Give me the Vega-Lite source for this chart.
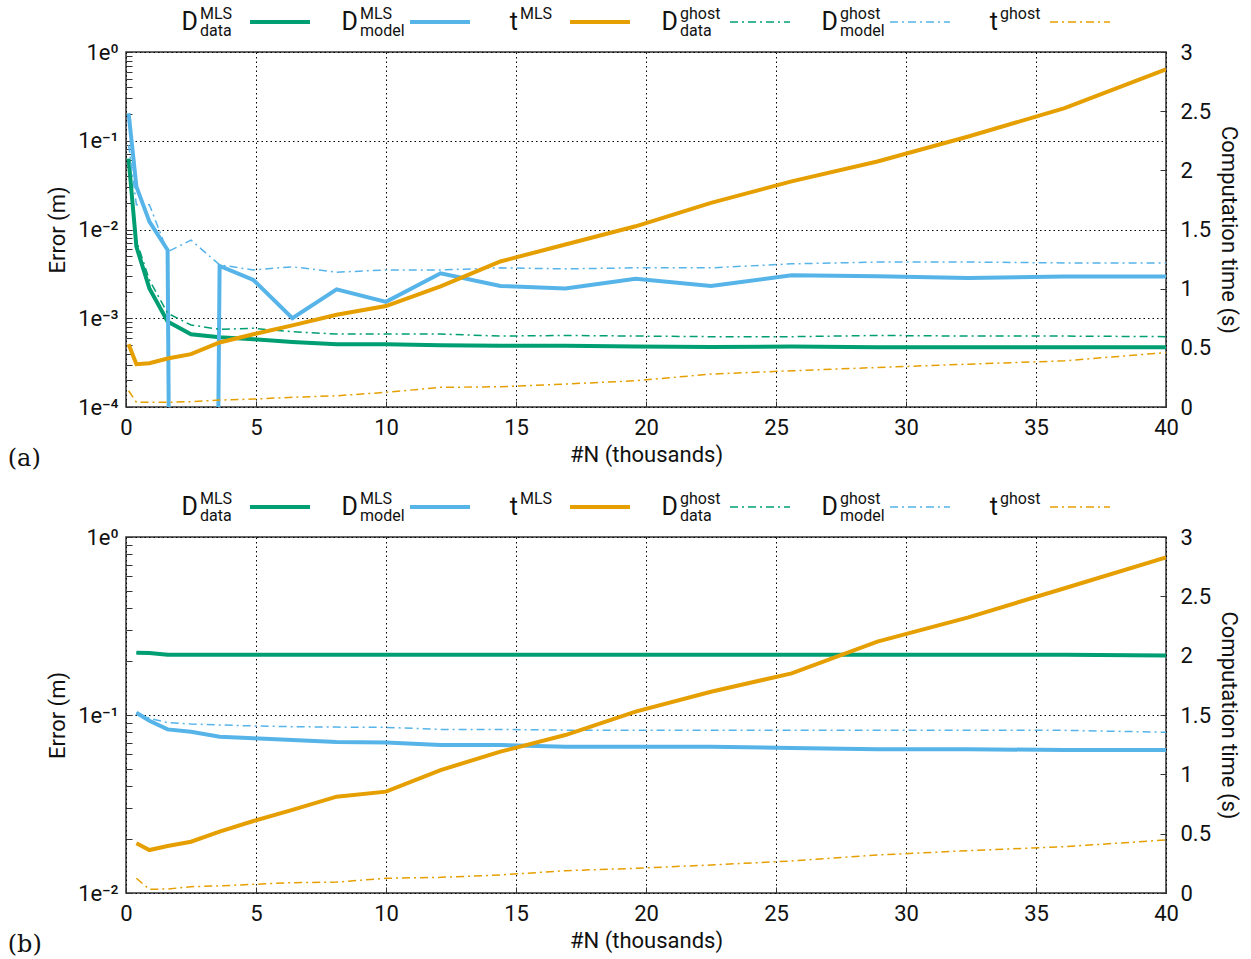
{
  "$schema": "https://vega.github.io/schema/vega-lite/v6.json",
  "padding": {"left": 6, "top": 0, "right": 0, "bottom": 0},
  "background": "white",
  "datasets": {
    "legend": [
      {"series": "Ddata_MLS", "base": "D", "sup": "MLS", "sub": "data"},
      {"series": "Dmodel_MLS", "base": "D", "sup": "MLS", "sub": "model"},
      {"series": "t_MLS", "base": "t", "sup": "MLS", "sub": ""},
      {"series": "Ddata_ghost", "base": "D", "sup": "ghost", "sub": "data"},
      {"series": "Dmodel_ghost", "base": "D", "sup": "ghost", "sub": "model"},
      {"series": "t_ghost", "base": "t", "sup": "ghost", "sub": ""}
    ],
    "pa": [
      {"N": 0.1, "Ddata_MLS": 0.063, "Dmodel_MLS": 0.204, "t_MLS": 0.53, "Ddata_ghost": 0.058, "Dmodel_ghost": 0.09, "t_ghost": 0.137},
      {"N": 0.4, "Ddata_MLS": 0.0064, "Dmodel_MLS": 0.0304, "t_MLS": 0.362, "Ddata_ghost": 0.0075, "Dmodel_ghost": 0.019, "t_ghost": 0.04},
      {"N": 0.9, "Ddata_MLS": 0.00217, "Dmodel_MLS": 0.01225, "t_MLS": 0.37, "Ddata_ghost": 0.0027, "Dmodel_ghost": 0.019, "t_ghost": 0.04},
      {"N": 1.6, "Ddata_MLS": 0.00092, "Dmodel_MLS": 0.00587, "t_MLS": 0.41, "Ddata_ghost": 0.00114, "Dmodel_ghost": 0.0056, "t_ghost": 0.04},
      {"N": 2.5, "Ddata_MLS": 0.00066, "Dmodel_MLS": 1e-40, "t_MLS": 0.447, "Ddata_ghost": 0.00084, "Dmodel_ghost": 0.0076, "t_ghost": 0.045},
      {"N": 3.6, "Ddata_MLS": 0.00061, "Dmodel_MLS": 0.00388, "t_MLS": 0.545, "Ddata_ghost": 0.00075, "Dmodel_ghost": 0.004, "t_ghost": 0.059},
      {"N": 4.9, "Ddata_MLS": 0.00058, "Dmodel_MLS": 0.0027, "t_MLS": 0.615, "Ddata_ghost": 0.00077, "Dmodel_ghost": 0.0035, "t_ghost": 0.067},
      {"N": 6.4, "Ddata_MLS": 0.00054, "Dmodel_MLS": 0.001, "t_MLS": 0.69, "Ddata_ghost": 0.000706, "Dmodel_ghost": 0.0038, "t_ghost": 0.082},
      {"N": 8.1, "Ddata_MLS": 0.00051, "Dmodel_MLS": 0.00212, "t_MLS": 0.78, "Ddata_ghost": 0.000664, "Dmodel_ghost": 0.0033, "t_ghost": 0.095},
      {"N": 10, "Ddata_MLS": 0.00051, "Dmodel_MLS": 0.00153, "t_MLS": 0.853, "Ddata_ghost": 0.000664, "Dmodel_ghost": 0.0035, "t_ghost": 0.124},
      {"N": 12.1, "Ddata_MLS": 0.000495, "Dmodel_MLS": 0.00321, "t_MLS": 1.02, "Ddata_ghost": 0.000664, "Dmodel_ghost": 0.0035, "t_ghost": 0.166},
      {"N": 14.4, "Ddata_MLS": 0.00049, "Dmodel_MLS": 0.00231, "t_MLS": 1.23, "Ddata_ghost": 0.00063, "Dmodel_ghost": 0.0037, "t_ghost": 0.171},
      {"N": 16.9, "Ddata_MLS": 0.00049, "Dmodel_MLS": 0.00217, "t_MLS": 1.373, "Ddata_ghost": 0.00064, "Dmodel_ghost": 0.0036, "t_ghost": 0.194},
      {"N": 19.6, "Ddata_MLS": 0.00048, "Dmodel_MLS": 0.00279, "t_MLS": 1.527, "Ddata_ghost": 0.00063, "Dmodel_ghost": 0.0037, "t_ghost": 0.222},
      {"N": 22.5, "Ddata_MLS": 0.000475, "Dmodel_MLS": 0.00231, "t_MLS": 1.725, "Ddata_ghost": 0.00062, "Dmodel_ghost": 0.0037, "t_ghost": 0.278},
      {"N": 25.6, "Ddata_MLS": 0.00048, "Dmodel_MLS": 0.00305, "t_MLS": 1.907, "Ddata_ghost": 0.00062, "Dmodel_ghost": 0.0041, "t_ghost": 0.306},
      {"N": 28.9, "Ddata_MLS": 0.00047, "Dmodel_MLS": 0.00298, "t_MLS": 2.075, "Ddata_ghost": 0.00064, "Dmodel_ghost": 0.0043, "t_ghost": 0.334},
      {"N": 32.4, "Ddata_MLS": 0.00047, "Dmodel_MLS": 0.00285, "t_MLS": 2.286, "Ddata_ghost": 0.00063, "Dmodel_ghost": 0.0043, "t_ghost": 0.362},
      {"N": 36.1, "Ddata_MLS": 0.00047, "Dmodel_MLS": 0.00295, "t_MLS": 2.525, "Ddata_ghost": 0.00063, "Dmodel_ghost": 0.0042, "t_ghost": 0.39},
      {"N": 40, "Ddata_MLS": 0.00047, "Dmodel_MLS": 0.00295, "t_MLS": 2.853, "Ddata_ghost": 0.00062, "Dmodel_ghost": 0.0042, "t_ghost": 0.46}
    ],
    "pb": [
      {"N": 0.4, "Ddata_MLS": 0.224, "Dmodel_MLS": 0.103, "t_MLS": 0.419, "Ddata_ghost": 0.224, "Dmodel_ghost": 0.103, "t_ghost": 0.124},
      {"N": 0.9, "Ddata_MLS": 0.223, "Dmodel_MLS": 0.0929, "t_MLS": 0.362, "Ddata_ghost": 0.222, "Dmodel_ghost": 0.0958, "t_ghost": 0.031},
      {"N": 1.6, "Ddata_MLS": 0.218, "Dmodel_MLS": 0.083, "t_MLS": 0.396, "Ddata_ghost": 0.218, "Dmodel_ghost": 0.0906, "t_ghost": 0.034},
      {"N": 2.5, "Ddata_MLS": 0.218, "Dmodel_MLS": 0.0805, "t_MLS": 0.432, "Ddata_ghost": 0.218, "Dmodel_ghost": 0.089, "t_ghost": 0.053},
      {"N": 3.6, "Ddata_MLS": 0.218, "Dmodel_MLS": 0.0755, "t_MLS": 0.517, "Ddata_ghost": 0.218, "Dmodel_ghost": 0.0879, "t_ghost": 0.06},
      {"N": 4.9, "Ddata_MLS": 0.218, "Dmodel_MLS": 0.074, "t_MLS": 0.607, "Ddata_ghost": 0.218, "Dmodel_ghost": 0.0868, "t_ghost": 0.073},
      {"N": 6.4, "Ddata_MLS": 0.218, "Dmodel_MLS": 0.0724, "t_MLS": 0.7, "Ddata_ghost": 0.218, "Dmodel_ghost": 0.086, "t_ghost": 0.087},
      {"N": 8.1, "Ddata_MLS": 0.218, "Dmodel_MLS": 0.0705, "t_MLS": 0.812, "Ddata_ghost": 0.218, "Dmodel_ghost": 0.0855, "t_ghost": 0.092},
      {"N": 10, "Ddata_MLS": 0.218, "Dmodel_MLS": 0.07, "t_MLS": 0.854, "Ddata_ghost": 0.218, "Dmodel_ghost": 0.0852, "t_ghost": 0.124},
      {"N": 12.1, "Ddata_MLS": 0.218, "Dmodel_MLS": 0.0678, "t_MLS": 1.036, "Ddata_ghost": 0.218, "Dmodel_ghost": 0.083, "t_ghost": 0.132},
      {"N": 14.4, "Ddata_MLS": 0.218, "Dmodel_MLS": 0.0678, "t_MLS": 1.191, "Ddata_ghost": 0.218, "Dmodel_ghost": 0.083, "t_ghost": 0.152},
      {"N": 16.9, "Ddata_MLS": 0.218, "Dmodel_MLS": 0.0664, "t_MLS": 1.331, "Ddata_ghost": 0.218, "Dmodel_ghost": 0.0822, "t_ghost": 0.188},
      {"N": 19.6, "Ddata_MLS": 0.218, "Dmodel_MLS": 0.0664, "t_MLS": 1.528, "Ddata_ghost": 0.218, "Dmodel_ghost": 0.0822, "t_ghost": 0.208},
      {"N": 22.5, "Ddata_MLS": 0.218, "Dmodel_MLS": 0.0664, "t_MLS": 1.696, "Ddata_ghost": 0.218, "Dmodel_ghost": 0.0822, "t_ghost": 0.236},
      {"N": 25.6, "Ddata_MLS": 0.218, "Dmodel_MLS": 0.0652, "t_MLS": 1.851, "Ddata_ghost": 0.218, "Dmodel_ghost": 0.0822, "t_ghost": 0.27},
      {"N": 28.9, "Ddata_MLS": 0.218, "Dmodel_MLS": 0.0642, "t_MLS": 2.118, "Ddata_ghost": 0.218, "Dmodel_ghost": 0.0822, "t_ghost": 0.32},
      {"N": 32.4, "Ddata_MLS": 0.218, "Dmodel_MLS": 0.0642, "t_MLS": 2.323, "Ddata_ghost": 0.218, "Dmodel_ghost": 0.0822, "t_ghost": 0.357},
      {"N": 36.1, "Ddata_MLS": 0.218, "Dmodel_MLS": 0.0636, "t_MLS": 2.568, "Ddata_ghost": 0.218, "Dmodel_ghost": 0.082, "t_ghost": 0.39},
      {"N": 40, "Ddata_MLS": 0.216, "Dmodel_MLS": 0.0636, "t_MLS": 2.829, "Ddata_ghost": 0.217, "Dmodel_ghost": 0.08, "t_ghost": 0.447}
    ]
  },
  "vconcat": [
    {
      "vconcat": [
        {
          "width": 1040, "height": 44,
          "view": {"stroke": null},
          "data": {"name": "legend"},
          "encoding": {
            "x": {"field": "series", "type": "nominal", "sort": null, "axis": null,
              "scale": {"type": "band", "domain": ["Ddata_MLS", "Dmodel_MLS", "t_MLS", "Ddata_ghost", "Dmodel_ghost", "t_ghost"], "range": [24, 984], "paddingInner": 0, "paddingOuter": 0}},
            "color": {"field": "series", "type": "nominal", "legend": null,
              "scale": {"domain": ["Ddata_MLS", "Dmodel_MLS", "t_MLS", "Ddata_ghost", "Dmodel_ghost", "t_ghost"], "range": ["#009e73", "#56b4e9", "#e69f00", "#009e73", "#56b4e9", "#e69f00"]}}
          },
          "layer": [
            {"transform": [{"filter": "indexof(datum.series, 'MLS') >= 0"}],
             "mark": {"type": "rule", "strokeWidth": 4},
             "encoding": {"x": {"field": "series", "type": "nominal", "bandPosition": 0.625}, "x2": {"field": "series", "bandPosition": 1}}},
            {"transform": [{"filter": "indexof(datum.series, 'ghost') >= 0"}],
             "mark": {"type": "rule", "strokeWidth": 1.5, "strokeDash": [8, 4, 2, 4]},
             "encoding": {"x": {"field": "series", "type": "nominal", "bandPosition": 0.625}, "x2": {"field": "series", "bandPosition": 1}}},
            {"mark": {"type": "text", "align": "right", "baseline": "middle", "fontSize": 25},
             "encoding": {"x": {"field": "series", "type": "nominal", "bandPosition": 0.3}, "text": {"field": "base"}, "color": {"value": "#111"}}},
            {"mark": {"type": "text", "align": "left", "baseline": "middle", "fontSize": 16, "dy": -8},
             "encoding": {"x": {"field": "series", "type": "nominal", "bandPosition": 0.3125}, "text": {"field": "sup"}, "color": {"value": "#111"}}},
            {"mark": {"type": "text", "align": "left", "baseline": "middle", "fontSize": 16, "dy": 9},
             "encoding": {"x": {"field": "series", "type": "nominal", "bandPosition": 0.3125}, "text": {"field": "sub"}, "color": {"value": "#111"}}}
          ]
        },
        {
          "width": 1040, "height": 355,
          "data": {"name": "pa"},
          "title": {"text": "(a)", "orient": "bottom", "anchor": "start", "frame": "bounds", "font": "DejaVu Serif", "fontSize": 24, "fontWeight": "normal", "color": "#111", "dx": -39, "offset": -18},
          "encoding": {
            "x": {"field": "N", "type": "quantitative", "scale": {"domain": [0, 40], "nice": false, "zero": false},
              "axis": {"title": "#N (thousands)", "values": [0, 5, 10, 15, 20, 25, 30, 35, 40], "tickSize": -6, "labelPadding": 16, "grid": true, "labelFlush": false, "titlePadding": 6}}
          },
          "layer": [
            {
              "transform": [{"fold": ["Ddata_MLS", "Dmodel_MLS", "Ddata_ghost", "Dmodel_ghost"], "as": ["series", "value"]}],
              "encoding": {
                "y": {"field": "value", "type": "quantitative",
                  "scale": {"type": "log", "domain": [0.0001, 1], "nice": false},
                  "axis": {"orient": "left", "title": "Error (m)", "tickSize": -6, "labelPadding": 14, "titlePadding": 8, "labelOverlap": false, "labelFlush": false, "grid": true,
                    "values": [0.0001, 0.0002, 0.0003, 0.0004, 0.0005, 0.0006, 0.0007, 0.0008, 0.0009, 0.001, 0.002, 0.003, 0.004, 0.005, 0.006, 0.007, 0.008, 0.009, 0.01, 0.02, 0.03, 0.04, 0.05, 0.06, 0.07, 0.08, 0.09, 0.1, 0.2, 0.3, 0.4, 0.5, 0.6, 0.7, 0.8, 0.9, 1],
                    "labelExpr": "datum.value == 1 ? '1e⁰' : datum.value == 0.1 ? '1e⁻¹' : datum.value == 0.01 ? '1e⁻²' : datum.value == 0.001 ? '1e⁻³' : datum.value == 0.0001 ? '1e⁻⁴' : ''",
                    "gridOpacity": {"condition": {"test": "indexof([1, 0.1, 0.01, 0.001, 0.0001], datum.value) >= 0", "value": 1}, "value": 0}}},
                "color": {"field": "series", "type": "nominal", "legend": null,
                  "scale": {"domain": ["Ddata_MLS", "Dmodel_MLS", "t_MLS", "Ddata_ghost", "Dmodel_ghost", "t_ghost"], "range": ["#009e73", "#56b4e9", "#e69f00", "#009e73", "#56b4e9", "#e69f00"]}}
              },
              "layer": [
                {"transform": [{"filter": "indexof(datum.series, 'MLS') >= 0"}], "mark": {"type": "line", "clip": true, "strokeWidth": 4}},
                {"transform": [{"filter": "indexof(datum.series, 'ghost') >= 0"}], "mark": {"type": "line", "clip": true, "strokeWidth": 1.5, "strokeDash": [8, 4, 2, 4]}}
              ]
            },
            {
              "transform": [{"fold": ["t_MLS", "t_ghost"], "as": ["series", "value"]}],
              "encoding": {
                "y": {"field": "value", "type": "quantitative",
                  "scale": {"domain": [0, 3], "nice": false},
                  "axis": {"orient": "right", "title": "Computation time (s)", "values": [0, 0.5, 1, 1.5, 2, 2.5, 3], "labelExpr": "'' + datum.value", "tickSize": -6, "labelPadding": 20, "titlePadding": 6, "grid": false, "labelFlush": false}},
                "color": {"field": "series", "type": "nominal", "legend": null,
                  "scale": {"domain": ["Ddata_MLS", "Dmodel_MLS", "t_MLS", "Ddata_ghost", "Dmodel_ghost", "t_ghost"], "range": ["#009e73", "#56b4e9", "#e69f00", "#009e73", "#56b4e9", "#e69f00"]}}
              },
              "layer": [
                {"transform": [{"filter": "indexof(datum.series, 'MLS') >= 0"}], "mark": {"type": "line", "clip": true, "strokeWidth": 4}},
                {"transform": [{"filter": "indexof(datum.series, 'ghost') >= 0"}], "mark": {"type": "line", "clip": true, "strokeWidth": 1.5, "strokeDash": [8, 4, 2, 4]}}
              ]
            }
          ],
          "resolve": {"scale": {"y": "independent"}}
        }
      ],
      "spacing": -4,
      "resolve": {"scale": {"x": "independent", "color": "independent"}}
    },
    {
      "vconcat": [
        {
          "width": 1040, "height": 44,
          "view": {"stroke": null},
          "data": {"name": "legend"},
          "encoding": {
            "x": {"field": "series", "type": "nominal", "sort": null, "axis": null,
              "scale": {"type": "band", "domain": ["Ddata_MLS", "Dmodel_MLS", "t_MLS", "Ddata_ghost", "Dmodel_ghost", "t_ghost"], "range": [24, 984], "paddingInner": 0, "paddingOuter": 0}},
            "color": {"field": "series", "type": "nominal", "legend": null,
              "scale": {"domain": ["Ddata_MLS", "Dmodel_MLS", "t_MLS", "Ddata_ghost", "Dmodel_ghost", "t_ghost"], "range": ["#009e73", "#56b4e9", "#e69f00", "#009e73", "#56b4e9", "#e69f00"]}}
          },
          "layer": [
            {"transform": [{"filter": "indexof(datum.series, 'MLS') >= 0"}],
             "mark": {"type": "rule", "strokeWidth": 4},
             "encoding": {"x": {"field": "series", "type": "nominal", "bandPosition": 0.625}, "x2": {"field": "series", "bandPosition": 1}}},
            {"transform": [{"filter": "indexof(datum.series, 'ghost') >= 0"}],
             "mark": {"type": "rule", "strokeWidth": 1.5, "strokeDash": [8, 4, 2, 4]},
             "encoding": {"x": {"field": "series", "type": "nominal", "bandPosition": 0.625}, "x2": {"field": "series", "bandPosition": 1}}},
            {"mark": {"type": "text", "align": "right", "baseline": "middle", "fontSize": 25},
             "encoding": {"x": {"field": "series", "type": "nominal", "bandPosition": 0.3}, "text": {"field": "base"}, "color": {"value": "#111"}}},
            {"mark": {"type": "text", "align": "left", "baseline": "middle", "fontSize": 16, "dy": -8},
             "encoding": {"x": {"field": "series", "type": "nominal", "bandPosition": 0.3125}, "text": {"field": "sup"}, "color": {"value": "#111"}}},
            {"mark": {"type": "text", "align": "left", "baseline": "middle", "fontSize": 16, "dy": 9},
             "encoding": {"x": {"field": "series", "type": "nominal", "bandPosition": 0.3125}, "text": {"field": "sub"}, "color": {"value": "#111"}}}
          ]
        },
        {
          "width": 1040, "height": 356,
          "data": {"name": "pb"},
          "title": {"text": "(b)", "orient": "bottom", "anchor": "start", "frame": "bounds", "font": "DejaVu Serif", "fontSize": 24, "fontWeight": "normal", "color": "#111", "dx": -39, "offset": -18},
          "encoding": {
            "x": {"field": "N", "type": "quantitative", "scale": {"domain": [0, 40], "nice": false, "zero": false},
              "axis": {"title": "#N (thousands)", "values": [0, 5, 10, 15, 20, 25, 30, 35, 40], "tickSize": -6, "labelPadding": 16, "grid": true, "labelFlush": false, "titlePadding": 6}}
          },
          "layer": [
            {
              "transform": [{"fold": ["Ddata_MLS", "Dmodel_MLS", "Ddata_ghost", "Dmodel_ghost"], "as": ["series", "value"]}],
              "encoding": {
                "y": {"field": "value", "type": "quantitative",
                  "scale": {"type": "log", "domain": [0.01, 1], "nice": false},
                  "axis": {"orient": "left", "title": "Error (m)", "tickSize": -6, "labelPadding": 14, "titlePadding": 8, "labelOverlap": false, "labelFlush": false, "grid": true,
                    "values": [0.01, 0.02, 0.03, 0.04, 0.05, 0.06, 0.07, 0.08, 0.09, 0.1, 0.2, 0.3, 0.4, 0.5, 0.6, 0.7, 0.8, 0.9, 1],
                    "labelExpr": "datum.value == 1 ? '1e⁰' : datum.value == 0.1 ? '1e⁻¹' : datum.value == 0.01 ? '1e⁻²' : ''",
                    "gridOpacity": {"condition": {"test": "indexof([1, 0.1, 0.01], datum.value) >= 0", "value": 1}, "value": 0}}},
                "color": {"field": "series", "type": "nominal", "legend": null,
                  "scale": {"domain": ["Ddata_MLS", "Dmodel_MLS", "t_MLS", "Ddata_ghost", "Dmodel_ghost", "t_ghost"], "range": ["#009e73", "#56b4e9", "#e69f00", "#009e73", "#56b4e9", "#e69f00"]}}
              },
              "layer": [
                {"transform": [{"filter": "indexof(datum.series, 'ghost') >= 0"}], "mark": {"type": "line", "clip": true, "strokeWidth": 1.5, "strokeDash": [8, 4, 2, 4]}},
                {"transform": [{"filter": "indexof(datum.series, 'MLS') >= 0"}], "mark": {"type": "line", "clip": true, "strokeWidth": 4}}
              ]
            },
            {
              "transform": [{"fold": ["t_MLS", "t_ghost"], "as": ["series", "value"]}],
              "encoding": {
                "y": {"field": "value", "type": "quantitative",
                  "scale": {"domain": [0, 3], "nice": false},
                  "axis": {"orient": "right", "title": "Computation time (s)", "values": [0, 0.5, 1, 1.5, 2, 2.5, 3], "labelExpr": "'' + datum.value", "tickSize": -6, "labelPadding": 20, "titlePadding": 6, "grid": false, "labelFlush": false}},
                "color": {"field": "series", "type": "nominal", "legend": null,
                  "scale": {"domain": ["Ddata_MLS", "Dmodel_MLS", "t_MLS", "Ddata_ghost", "Dmodel_ghost", "t_ghost"], "range": ["#009e73", "#56b4e9", "#e69f00", "#009e73", "#56b4e9", "#e69f00"]}}
              },
              "layer": [
                {"transform": [{"filter": "indexof(datum.series, 'MLS') >= 0"}], "mark": {"type": "line", "clip": true, "strokeWidth": 4}},
                {"transform": [{"filter": "indexof(datum.series, 'ghost') >= 0"}], "mark": {"type": "line", "clip": true, "strokeWidth": 1.5, "strokeDash": [8, 4, 2, 4]}}
              ]
            }
          ],
          "resolve": {"scale": {"y": "independent"}}
        }
      ],
      "spacing": -4,
      "resolve": {"scale": {"x": "independent", "color": "independent"}}
    }
  ],
  "spacing": 13,
  "resolve": {"scale": {"x": "independent", "color": "independent"}},
  "config": {
    "font": "Roboto",
    "view": {"stroke": "#333333", "strokeWidth": 1.5},
    "axis": {"labelFontSize": 22, "titleFontSize": 22, "titleFontWeight": "normal", "labelColor": "#111111", "titleColor": "#111111", "domain": false, "tickColor": "#333333", "tickWidth": 1, "gridColor": "#000000", "gridDash": [1.5, 3], "gridWidth": 1, "labelFont": "Roboto", "titleFont": "Roboto"},
    "text": {"font": "Roboto"}
  }
}
